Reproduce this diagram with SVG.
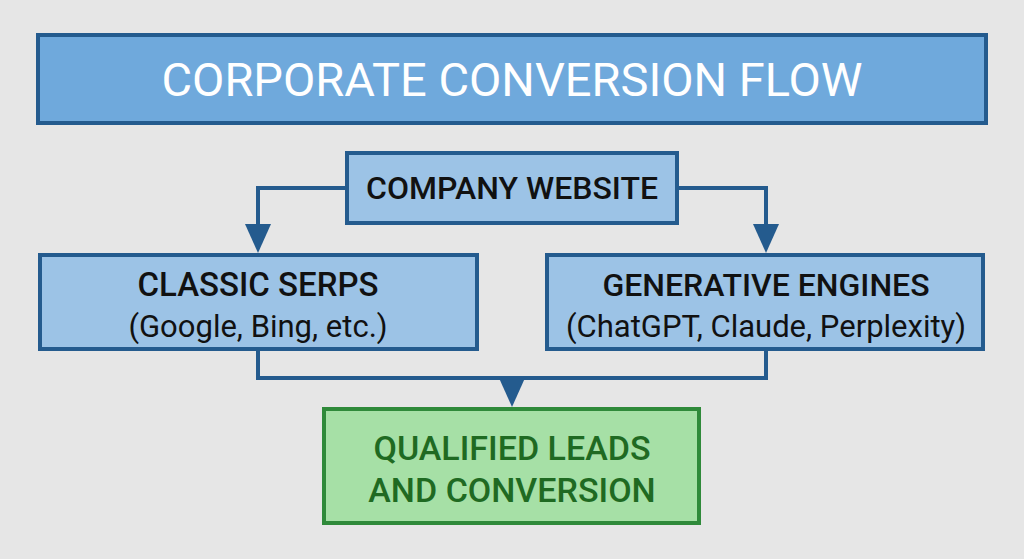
<svg xmlns="http://www.w3.org/2000/svg" width="1024" height="559" viewBox="0 0 1024 559">
<style>
.b{fill:#9cc3e6;stroke:#245b8e;stroke-width:4}
.t{font-family:Roboto,"Liberation Sans",sans-serif;fill:#111;text-anchor:middle;font-weight:500}
.c{fill:none;stroke:#245b8e;stroke-width:4}
.h{fill:#245b8e}
</style>
<rect width="1024" height="559" fill="#e6e6e6"/>
<g id="title"><rect x="38" y="35" width="948" height="88" fill="#6fa9dc" stroke="#245b8e" stroke-width="4"/>
<text x="512" y="96" class="t" style="fill:#fff;font-size:47px;font-weight:400">CORPORATE CONVERSION FLOW</text></g>
<g id="connectors">
<path class="c" d="M346,188H258V226"/>
<path class="c" d="M678,188H766V226"/>
<path class="c" d="M258,350V378H766V350M512,378V380"/>
<path class="h" d="M245,224L271,224L258,253z"/>
<path class="h" d="M753,224L779,224L766,253z"/>
<path class="h" d="M499,378L525,378L512,407z"/>
</g>
<g id="website"><rect class="b" x="347" y="153" width="330" height="70"/>
<text x="512" y="199" class="t" style="font-size:32px">COMPANY WEBSITE</text></g>
<g id="serps"><rect class="b" x="40" y="255" width="437" height="94"/>
<text x="258" y="296" class="t" style="font-size:33px">CLASSIC SERPS</text>
<text x="258" y="337" class="t" style="font-size:31px;font-weight:400">(Google, Bing, etc.)</text></g>
<g id="gen"><rect class="b" x="547" y="255" width="436" height="94"/>
<text x="766" y="296" class="t" style="font-size:32px">GENERATIVE ENGINES</text>
<text x="766" y="337" class="t" style="font-size:31px;font-weight:400">(ChatGPT, Claude, Perplexity)</text></g>
<g id="leads"><rect x="324" y="409" width="375" height="114" fill="#a6e0a6" stroke="#2f8a3a" stroke-width="4"/>
<text x="512" y="460" class="t" style="font-size:34px;fill:#1f6a22">QUALIFIED LEADS</text>
<text x="512" y="502" class="t" style="font-size:34px;fill:#1f6a22">AND CONVERSION</text></g>
</svg>
